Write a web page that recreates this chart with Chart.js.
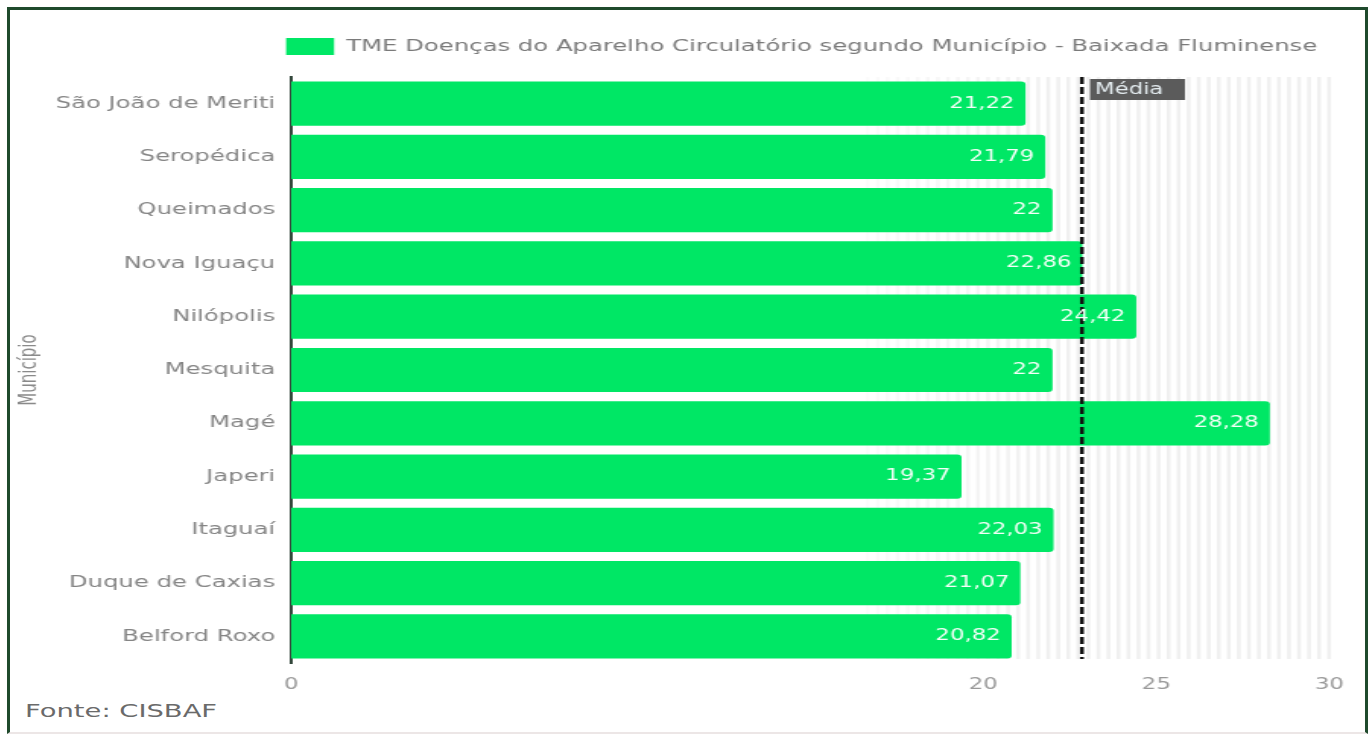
<!DOCTYPE html>
<html>
<head>
<meta charset="utf-8">
<script src="https://cdn.jsdelivr.net/npm/chart.js@4"></script>
<style>
  body { margin: 0; background: #fff; width: 1371px; height: 737px; overflow: hidden; }
  .frame {
    position: absolute; left: 7px; top: 7px; width: 1361px; height: 727px;
    box-sizing: border-box; border: 3px solid #1f4a2c; border-bottom: 2px solid #ece6e6;
  }
  #wrap { position: absolute; left: 10px; top: 10px; transform: scaleX(1.52); transform-origin: 0 0; }
  .fonte {
    position: absolute; left: 25px; top: 700px; transform: scaleX(1.52); transform-origin: 0 0;
    font: 18px "DejaVu Sans", sans-serif; color: #6a6a6a;
  }
</style>
</head>
<body>
<div class="frame"></div>
<div id="wrap"><canvas id="chart" width="891" height="690"></canvas></div>
<div class="fonte">Fonte: CISBAF</div>
<script>
const municipios = ['São João de Meriti', 'Seropédica', 'Queimados', 'Nova Iguaçu', 'Nilópolis',
  'Mesquita', 'Magé', 'Japeri', 'Itaguaí', 'Duque de Caxias', 'Belford Roxo'];
const taxas = [21.22, 21.79, 22, 22.86, 24.42, 22, 28.28, 19.37, 22.03, 21.07, 20.82];
const xTicks = [0, 20, 25, 30];
const media = 22.85;
const serieNome = 'TME Doenças do Aparelho Circulatório segundo Município - Baixada Fluminense';

const fmt = v => String(v).replace('.', ',');

// striped band behind the bars
const stripes = {
  id: 'stripes',
  beforeDatasetsDraw(chart) {
    const { ctx, chartArea: a, scales: { x } } = chart;
    const x0 = x.getPixelForValue(16.6);
    const grad = ctx.createLinearGradient(x0, 0, x.getPixelForValue(22), 0);
    grad.addColorStop(0, 'rgba(0,0,0,0.015)');
    grad.addColorStop(1, 'rgba(0,0,0,0.06)');
    ctx.save();
    ctx.fillStyle = grad;
    for (let px = x0; px < a.right + 3; px += 6.6) {
      ctx.fillRect(px, a.top, 2.6, a.bottom - a.top - 4);
    }
    ctx.restore();
  }
};

// mean line, its tag and the value labels
const extras = {
  id: 'extras',
  beforeLayout(chart) {
    if (chart.legend && !chart.legend._patched) {
      const fit = chart.legend.fit;
      chart.legend.fit = function () { fit.call(this); this.height += 12; };
      chart.legend._patched = true;
    }
  },
  afterDatasetsDraw(chart) {
    const { ctx, chartArea: a, scales: { x } } = chart;
    const mx = x.getPixelForValue(media);
    ctx.save();
    ctx.strokeStyle = '#111';
    ctx.lineWidth = 2.5;
    ctx.setLineDash([7, 3]);
    ctx.beginPath();
    ctx.moveTo(mx, a.top);
    ctx.lineTo(mx, a.bottom - 4);
    ctx.stroke();
    ctx.setLineDash([]);

    ctx.fillStyle = '#5b5b5b';
    ctx.fillRect(mx + 5.3, a.top + 2, 62.5, 21);
    ctx.fillStyle = '#e4ecf0';
    ctx.font = '15px "DejaVu Sans"';
    ctx.textBaseline = 'middle';
    ctx.textAlign = 'left';
    ctx.fillText('Média', mx + 8.5, a.top + 13);

    ctx.fillStyle = '#f4fff8';
    ctx.textAlign = 'right';
    chart.getDatasetMeta(0).data.forEach((bar, i) => {
      ctx.fillText(fmt(taxas[i]), bar.x - 7.2, bar.y);
    });
    ctx.restore();
  }
};

new Chart(document.getElementById('chart'), {
  type: 'bar',
  data: {
    labels: municipios,
    datasets: [{
      label: serieNome,
      data: taxas,
      backgroundColor: '#00e765',
      borderRadius: 3,
      borderSkipped: 'start',
      categoryPercentage: 1,
      barPercentage: 0.83
    }]
  },
  options: {
    indexAxis: 'y',
    responsive: false,
    animation: false,
    layout: { padding: { top: 20, right: 23, left: 0, bottom: 0 } },
    plugins: {
      legend: {
        align: 'end',
        labels: {
          boxWidth: 31.6,
          boxHeight: 17,
          padding: 8,
          color: '#7a7a7a',
          font: { family: 'DejaVu Sans', size: 16 }
        }
      },
      tooltip: { enabled: false }
    },
    scales: {
      x: {
        min: 0,
        max: 30,
        afterBuildTicks: axis => { axis.ticks = xTicks.map(v => ({ value: v })); },
        afterFit: axis => { axis.height = 37; },
        grid: { display: false, drawTicks: false },
        border: { display: false },
        ticks: { color: '#999', padding: 13, font: { family: 'DejaVu Sans', size: 15 } }
      },
      y: {
        afterFit: axis => { axis.width = 185; },
        grid: { display: false, drawTicks: false },
        border: { display: true, color: '#33473b', width: 2 },
        ticks: { color: '#858585', padding: 10.5, font: { family: 'DejaVu Sans', size: 16 } },
        title: {
          display: true,
          text: 'Município',
          color: '#8a8a8a',
          padding: { top: 4, bottom: 0 },
          font: { family: 'DejaVu Sans', size: 15 }
        }
      }
    }
  },
  plugins: [stripes, extras]
});
</script>
</body>
</html>
